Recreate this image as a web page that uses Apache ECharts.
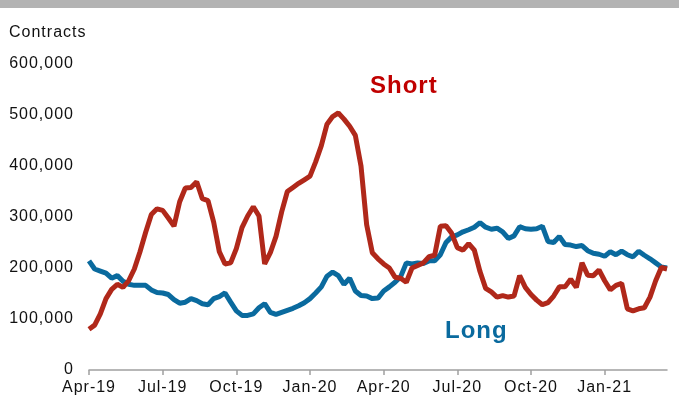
<!DOCTYPE html>
<html>
<head>
<meta charset="utf-8">
<script src="https://cdn.jsdelivr.net/npm/echarts@6/dist/echarts.min.js"></script>
<style>html,body{margin:0;padding:0;background:#fff}#c{width:679px;height:401px}</style>
</head>
<body>
<div id="c"></div>
<script>
// Weekly observations, Apr-2019 .. Mar-2021
const startDate = '2019-04-02';
const tickLabels = ['Apr-19','Jul-19','Oct-19','Jan-20','Apr-20','Jul-20','Oct-20','Jan-21'];
const shortSeries = [
  80000, 88000, 110000, 140000, 158000, 168000, 162000, 175000, 198000, 232000,
  270000, 305000, 316000, 313000, 298000, 282000, 330000, 357000, 358000, 369000,
  336000, 332000, 290000, 232000, 208000, 210000, 238000, 279000, 302000, 320000,
  302000, 208000, 230000, 262000, 310000, 350000, 358000, 366000, 373000, 380000,
  408000, 440000, 482000, 497000, 504000, 492000, 478000, 460000, 400000, 285000,
  230000, 218000, 208000, 200000, 182000, 180000, 172000, 200000, 205000, 210000,
  222000, 225000, 282000, 283000, 268000, 240000, 235000, 248000, 235000, 193000,
  160000, 153000, 143000, 146000, 143000, 145000, 185000, 162000, 148000, 137000,
  128000, 132000, 145000, 163000, 163000, 178000, 162000, 210000, 186000, 185000,
  196000, 175000, 157000, 166000, 170000, 120000, 116000, 120000, 122000, 143000,
  175000, 201000, 198000
];
const longSeries = [
  214000, 198000, 194000, 190000, 180000, 185000, 174000, 168000, 166000, 166000,
  166000, 157000, 152000, 151000, 148000, 138000, 131000, 133000, 140000, 136000,
  130000, 128000, 140000, 144000, 151000, 133000, 116000, 107000, 107000, 110000,
  122000, 130000, 113000, 109000, 113000, 117000, 121000, 126000, 132000, 140000,
  151000, 163000, 184000, 192000, 185000, 168000, 180000, 155000, 146000, 145000,
  140000, 141000, 155000, 163000, 172000, 183000, 210000, 208000, 210000, 209000,
  214000, 214000, 226000, 250000, 261000, 265000, 271000, 275000, 280000, 289000,
  280000, 276000, 278000, 271000, 258000, 263000, 281000, 277000, 276000, 277000,
  282000, 252000, 250000, 262000, 246000, 245000, 242000, 244000, 234000, 229000,
  227000, 223000, 232000, 226000, 233000, 226000, 222000, 233000, 225000, 218000,
  210000, 202000, 200000
];

const categories = [];
{
  const d0 = new Date(startDate + 'T00:00:00Z');
  for (let i = 0; i < shortSeries.length; i++) {
    const d = new Date(d0.getTime() + i * 7 * 86400000);
    categories.push(d.toISOString().slice(0, 10));
  }
}

// the reference typography is slightly tracked out
try {
  const proto = CanvasRenderingContext2D.prototype;
  if ('letterSpacing' in proto) {
    const origFill = proto.fillText;
    proto.fillText = function () {
      this.letterSpacing = '1px';
      return origFill.apply(this, arguments);
    };
  }
} catch (e) {}

const chart = echarts.init(document.getElementById('c'), null, {renderer: 'canvas'});

const FONT = '"Liberation Sans", Arial, sans-serif';
chart.setOption({
  animation: false,
  backgroundColor: '#ffffff',
  grid: {left: 89, right: 12, top: 64, bottom: 31, containLabel: false},
  graphic: [
    {type: 'rect', left: 0, top: 0, shape: {width: 679, height: 8}, style: {fill: '#b3b3b3'}},
    {type: 'text', x: 9, y: 32.5, style: {text: 'Contracts', font: '16px ' + FONT, fill: '#111', align: 'left', verticalAlign: 'middle'}},
    {type: 'text', x: 370, y: 86, style: {text: 'Short', font: 'bold 24px ' + FONT, fill: '#c00000', align: 'left', verticalAlign: 'middle'}},
    {type: 'text', x: 445, y: 331, style: {text: 'Long', font: 'bold 24px ' + FONT, fill: '#0a6a9e', align: 'left', verticalAlign: 'middle'}}
  ],
  xAxis: {
    type: 'category',
    data: categories,
    boundaryGap: false,
    axisLine: {show: true, lineStyle: {color: '#a0a0a0', width: 1.5}},
    axisTick: {show: true, length: 5, lineStyle: {color: '#a0a0a0', width: 1.5},
      interval: (idx) => idx % 13 === 0 && idx <= 91},
    axisLabel: {
      interval: (idx) => idx % 13 === 0 && idx <= 91,
      formatter: (val, idx) => tickLabels[idx / 13] || '',
      color: '#111', fontSize: 16, fontFamily: FONT, margin: 10
    },
    splitLine: {show: false}
  },
  yAxis: {
    type: 'value',
    min: 0, max: 600000, interval: 100000,
    axisLine: {show: false},
    axisTick: {show: false},
    splitLine: {show: false},
    axisLabel: {
      formatter: (v) => v.toLocaleString('en-US'),
      color: '#111', fontSize: 16, fontFamily: FONT, margin: 15
    }
  },
  series: [
    {name: 'Long', type: 'line', data: longSeries, symbol: 'none', smooth: false,
      lineStyle: {color: '#0a6a9e', width: 5}, z: 2},
    {name: 'Short', type: 'line', data: shortSeries, symbol: 'none', smooth: false,
      lineStyle: {color: '#b0281a', width: 5}, z: 3}
  ]
});
</script>
</body>
</html>
